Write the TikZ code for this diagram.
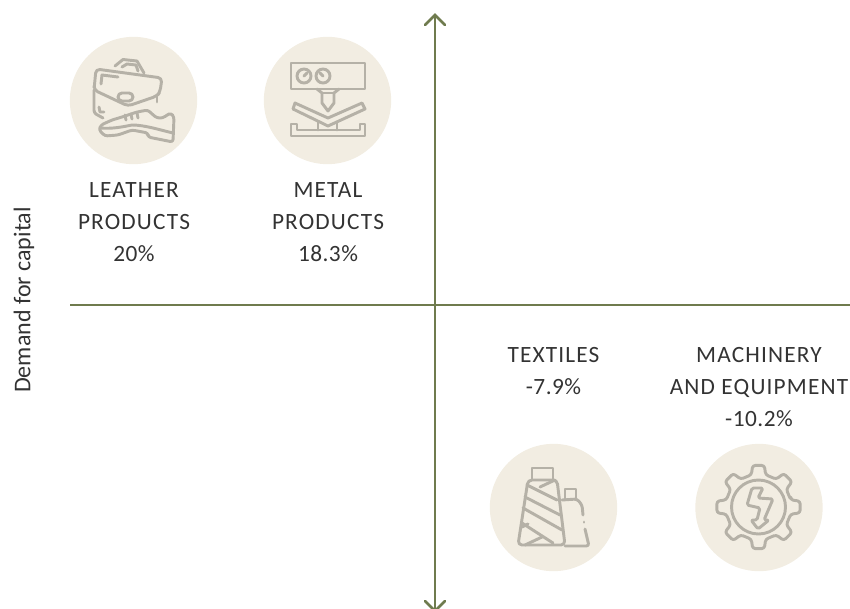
\documentclass[tikz,border=0pt]{standalone}
\usepackage{fontspec}
\setmainfont{Carlito}
\newfontfamily\spaced[LetterSpace=5]{Carlito}
\newfontfamily\lightspaced[LetterSpace=2]{Carlito}
\usetikzlibrary{arrows.meta}
\definecolor{axisc}{HTML}{6F7B4E}
\definecolor{disc}{HTML}{F2EDE2}
\definecolor{icon}{HTML}{B5B1A7}
\definecolor{txt}{HTML}{333333}
\tikzset{
 axisline/.style={draw=axisc,line width=1.9pt},
 tip/.style={axisline,line cap=round},
 badge/.style={circle,fill=disc,minimum size=95.5pt,inner sep=0pt},
 ico/.style={draw=icon,line width=2.2pt,line join=round,line cap=round},
 lab/.style={text=txt,font=\fontsize{17.5}{24}\selectfont,align=center,inner sep=0pt}
}
\newcommand{\cp}[1]{{\spaced #1}}
\newcommand{\nm}[1]{{\lightspaced #1}}
\begin{document}
\begin{tikzpicture}[x=0.75pt,y=-0.75pt]
\useasboundingbox (0,0) rectangle (850,608);
% axes
\coordinate (vt) at (435,15);
\coordinate (vb) at (435,611);
\coordinate (hl) at (70,305);
\coordinate (hr) at (850,305);
\draw[axisline] (vt) -- (vb);
\draw[axisline] (hl) -- (hr);
\draw[tip] (425,25) -- (vt) -- (445,25);
\draw[tip] (425,601) -- (vb) -- (445,601);
% badges
\node[badge] (b1) at (133.5,100.5) {};
\node[badge] (b2) at (327.5,100.5) {};
\node[badge] (b3) at (553.5,507.5) {};
\node[badge] (b4) at (759,507.5) {};
% labels
\node[lab] (l1) at (134,222) {\cp{LEATHER}\\\cp{PRODUCTS}\\\nm{20\%}};
\node[lab] (l2) at (328,222) {\cp{METAL}\\\cp{PRODUCTS}\\\nm{18.3\%}};
\node[lab] (l3) at (553.5,371) {\cp{TEXTILES}\\\nm{-7.9\%}};
\node[lab] (l4) at (759,387) {\cp{MACHINERY}\\\cp{AND EQUIPMENT}\\\nm{-10.2\%}};
\node[lab,rotate=90,font=\fontsize{18}{20}\selectfont] (yl) at (24,300) {Demand for capital};
% briefcase
\draw[ico] (115,66) -- (123,59.5) -- (137,61) -- (144,73);
\draw[ico] (122,67) -- (127,64) -- (136,65) -- (138,71);
\draw[ico,rounded corners=3pt] (94,90) -- (96,69) -- (162,78) -- (160,92) -- (157,96) -- (128,106) -- (94,90) -- cycle;
\draw[ico,rounded corners=2pt] (94,90) -- (94,113) -- (103,118);
\draw[ico] (157,96) -- (157,102);
\draw[ico] (101,84) -- (102,75) -- (118,77);
\draw[ico] (99,107) -- (100,112) -- (104,112);
\draw[ico,rounded corners=3pt] (118,93) rectangle (133,101);
% shoe
\draw[ico,rounded corners=2pt] (99,130) -- (101,125) -- (112,120) -- (122,117) -- (137,112) -- (148,110) -- (152,114) -- (157,118) -- (163,118) -- (167,115) -- (171,113) -- (174,117) -- (173,142) -- (148,137) -- (148,133) -- (132,130) -- (118,135) -- (105,136) -- cycle;
\draw[ico] (100,128) .. controls (112,129) and (122,127) .. (132,125) .. controls (145,125) and (160,130) .. (173,133);
\draw[ico] (125,115) -- (126,120);
\draw[ico] (131,114) -- (132,119);
\draw[ico] (137,113) -- (138,118);
% press
\draw[ico] (291,63) rectangle (365,89);
\draw[ico] (304,76) circle (7);
\draw[ico] (323,76) circle (7);
\draw[ico] (304,76) -- (307,73);
\draw[ico] (323,76) -- (320,73);
\draw[ico] (317,89) -- (322,93) -- (322,103) -- (328,111) -- (334,103) -- (334,93) -- (339,89);
\draw[ico] (322,93) -- (334,93);
\draw[ico] (295,103) -- (328,118) -- (362,103) -- (365,109) -- (328,126) -- (293,109) -- cycle;
\draw[ico] (291,124) -- (291,136) -- (365,136) -- (365,124) -- (360,124) -- (360,130) -- (297,130) -- (297,124) -- cycle;
\draw[ico] (318,122) -- (318,130);
\draw[ico] (337,122) -- (337,130);
% spools
\draw[ico] (532,479) -- (532,468) -- (553,468) -- (553,479);
\draw[ico,rounded corners=3pt] (528,480) -- (557,480) -- (565,545) -- (518,545) -- cycle;
\draw[ico] (527,485) -- (557,500);
\draw[ico] (525,497) -- (560,515);
\draw[ico] (523,508) -- (562,530);
\draw[ico] (522,523) -- (553,543);
\draw[ico] (525,545) -- (542,537);
\draw[ico] (522,527) -- (528,524);
\draw[ico] (540,487) -- (555,480);
\draw[ico] (565,499) -- (565,489) -- (576,489) -- (576,499);
\draw[ico,rounded corners=2pt] (562,500) -- (577,499) -- (582,505) -- (583,515);
\draw[ico] (584,522) -- (584,522.2);
\draw[ico,rounded corners=2pt] (585,529) -- (589,546) -- (565,546);
% gear
\draw[ico,rounded corners=2pt,shift={(758.5,507)}] (-12.5:33) \foreach \a in {0,45,...,315} { -- (\a-12.5:33) -- (\a-8:42) -- (\a+8:42) -- (\a+12.5:33) } -- cycle;
\draw[ico] (758.5,507) circle (27);
\draw[ico,rounded corners=1.2pt] (752,488) -- (763,488) -- (758,498) -- (773,499) -- (764,520) -- (769,520) -- (758,529) -- (751,520) -- (757,520) -- (760,508) -- (747,505) -- cycle;
\end{tikzpicture}
\end{document}
